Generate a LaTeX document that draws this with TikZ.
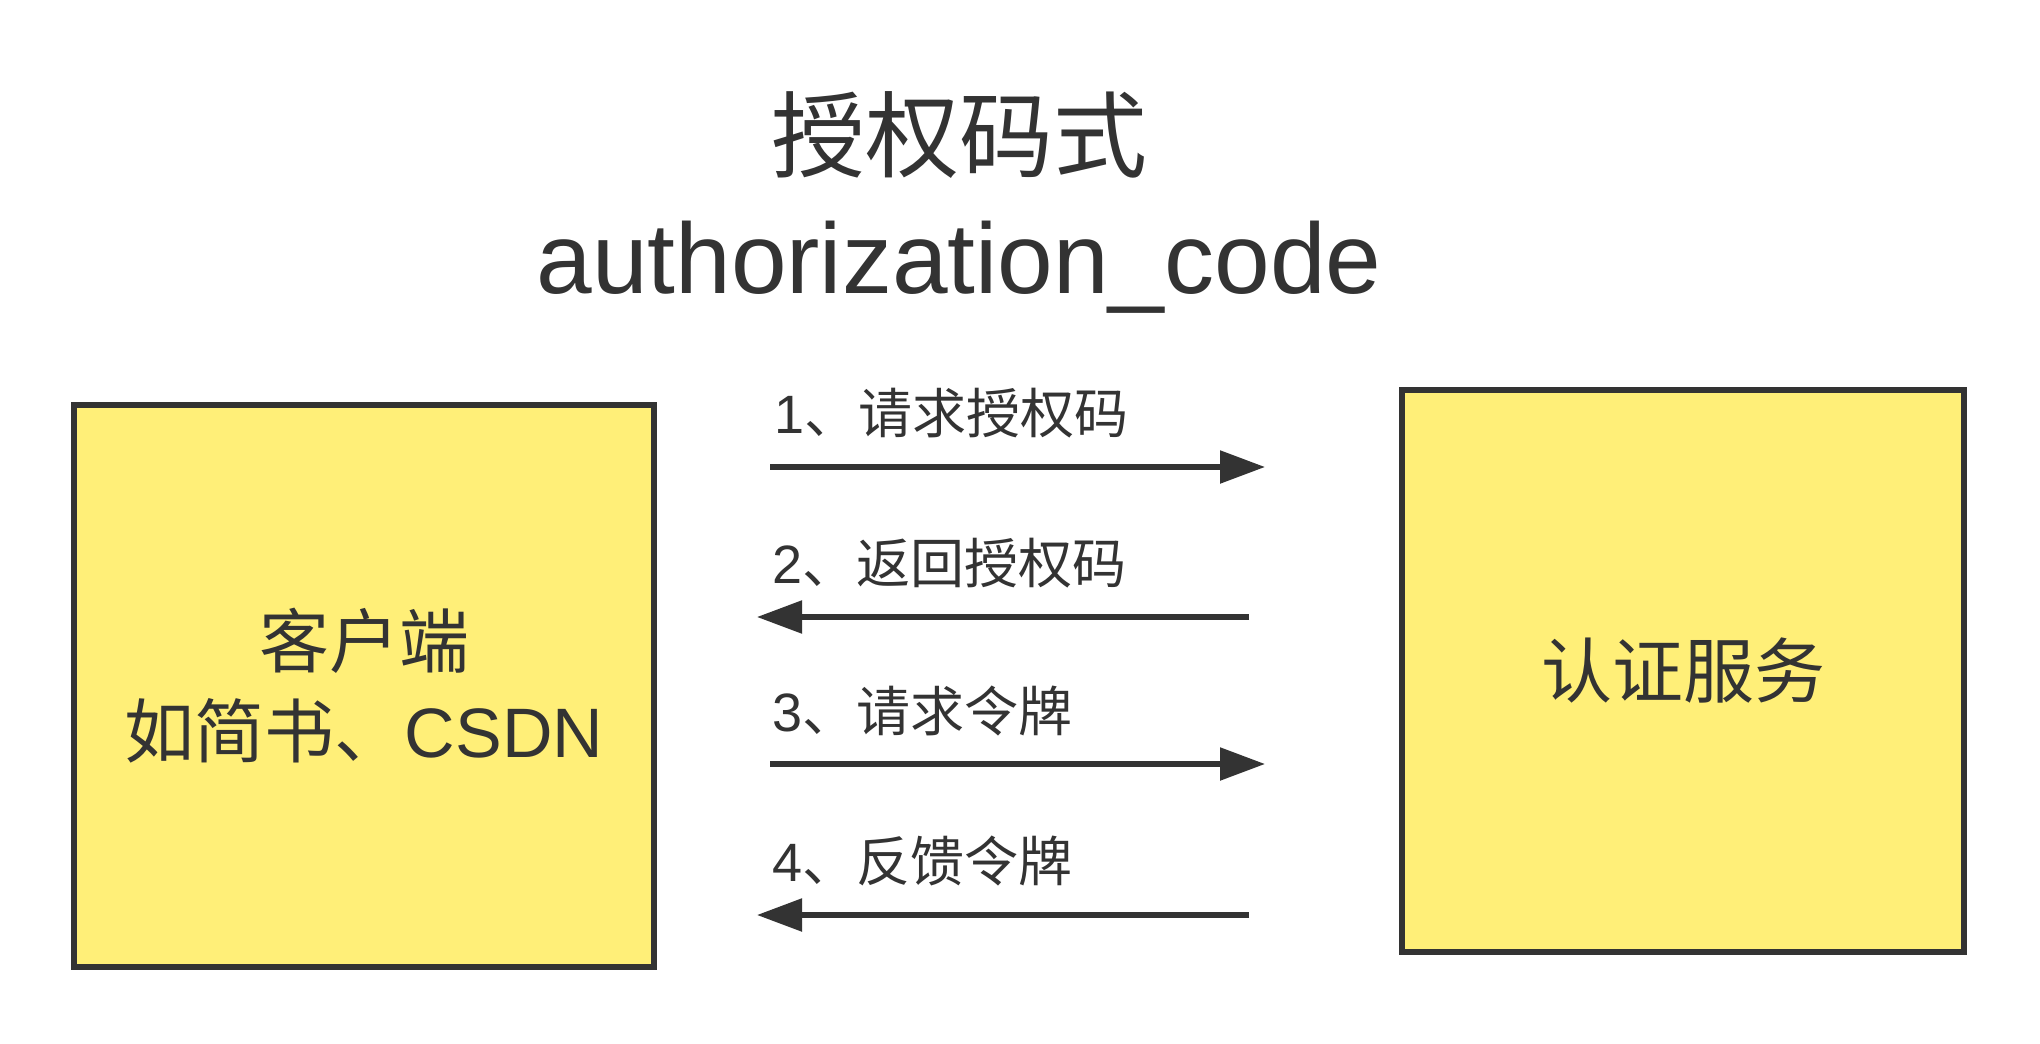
\documentclass[tikz,border=0pt]{standalone}
\usepackage{fontspec}
\setmainfont{Liberation Sans}
\newfontfamily\cjk{Noto Sans CJK SC}
\usetikzlibrary{arrows.meta}
\definecolor{ink}{HTML}{333333}
\definecolor{boxfill}{HTML}{FFEF78}
\tikzset{
  panel/.style={draw=ink, fill=boxfill, line width=6pt, inner sep=0pt, align=center, text=ink},
  flow/.style={draw=ink, line width=5.4pt, -{Triangle[length=45pt,width=32pt]}},
  steplabel/.style={anchor=base west, inner sep=0pt, text=ink, font=\fontsize{54}{60}\selectfont},
}
\begin{document}
\begin{tikzpicture}[x=1pt,y=-1pt]
\useasboundingbox (0,0) rectangle (2040,1044);
\fill[white] (0,0) rectangle (2040,1044);
% title
\node[anchor=base, inner sep=0pt, text=ink, font=\fontsize{94}{100}\selectfont] (title) at (959,170) {\cjk 授权码式};
\node[anchor=base, inner sep=0pt, text=ink, font=\fontsize{100}{110}\selectfont] (subtitle) at (959,293) {authorization\_code};
% boxes
\node[panel, minimum width=580pt, minimum height=562pt, font=\fontsize{70}{90}\selectfont] (client) at (364,686) {{\cjk 客户端}\\{\cjk 如简书、}CSDN};
\node[panel, minimum width=562pt, minimum height=562pt, font=\fontsize{71}{80}\selectfont] (server) at (1683,671) {\cjk 认证服务};
% arrows
\coordinate (a1s) at (770,467); \coordinate (a1e) at (1265,467);
\coordinate (a2s) at (1249,617); \coordinate (a2e) at (757,617);
\coordinate (a3s) at (770,764); \coordinate (a3e) at (1265,764);
\coordinate (a4s) at (1249,915); \coordinate (a4e) at (757,915);
\draw[flow] (a1s) -- (a1e);
\draw[flow] (a2s) -- (a2e);
\draw[flow] (a3s) -- (a3e);
\draw[flow] (a4s) -- (a4e);
% labels
\node[steplabel] (l1) at (774,433) {1{\cjk 、请求授权码}};
\node[steplabel] (l2) at (772,583) {2{\cjk 、返回授权码}};
\node[steplabel] (l3) at (772,731) {3{\cjk 、请求令牌}};
\node[steplabel] (l4) at (772,881) {4{\cjk 、反馈令牌}};
\end{tikzpicture}
\end{document}
